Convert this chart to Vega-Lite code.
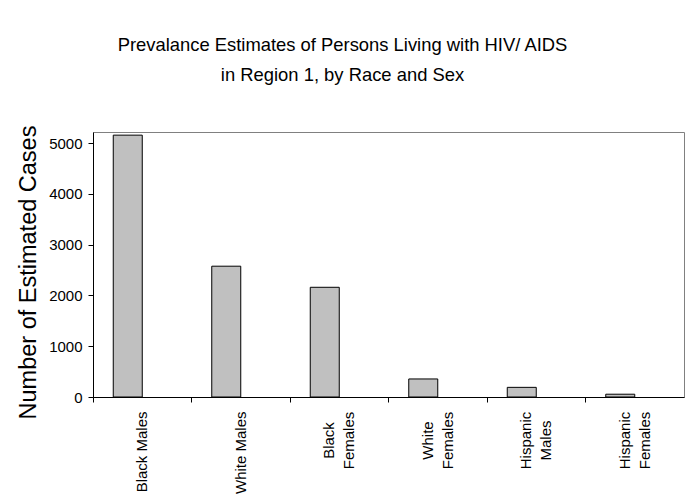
{
  "$schema": "https://vega.github.io/schema/vega-lite/v6.json",
  "autosize": {"type": "none"},
  "width": 591,
  "height": 265,
  "padding": {"left": 93, "top": 132, "right": 3, "bottom": 107},
  "background": "white",
  "title": {
    "text": ["Prevalance Estimates of Persons Living with HIV/ AIDS", "in Region 1, by Race and Sex"],
    "font": "Liberation Sans",
    "fontSize": 18.4,
    "fontWeight": "normal",
    "lineHeight": 30,
    "color": "black",
    "anchor": "middle",
    "dx": -46,
    "offset": 41
  },
  "config": {
    "view": {"stroke": "#808080", "strokeWidth": 1},
    "axis": {"labelFont": "Liberation Sans", "titleFont": "Liberation Sans", "labelColor": "black", "titleColor": "black", "domainColor": "black", "tickColor": "black", "grid": false}
  },
  "data": {
    "values": [
      {"group": "Black Males", "cases": 5155},
      {"group": "White Males", "cases": 2575},
      {"group": "Black Females", "cases": 2160},
      {"group": "White Females", "cases": 355},
      {"group": "Hispanic Males", "cases": 190},
      {"group": "Hispanic Females", "cases": 55}
    ]
  },
  "mark": {"type": "bar", "width": 29, "xOffset": -14.5, "fill": "#c0c0c0", "stroke": "black", "strokeWidth": 1},
  "encoding": {
    "x": {
      "field": "group",
      "type": "nominal",
      "sort": null,
      "scale": {"paddingInner": 0, "paddingOuter": 0},
      "axis": {
        "title": null,
        "bandPosition": 0,
        "labelAngle": -90,
        "labelAlign": {"condition": {"test": "datum.value == 'Black Males' || datum.value == 'White Males'", "value": "right"}, "value": "center"},
        "labelPadding": {"condition": {"test": "datum.value == 'Black Males' || datum.value == 'White Males'", "value": 9}, "value": 38}, 
        "labelOffset": {"condition": {"test": "datum.value == 'Black Males' || datum.value == 'White Males'", "value": 0}, "value": -10},
        "labelBaseline": "middle",
        "labelFontSize": 15,
        "labelLineHeight": 20,
        "tickSize": 5,
        "labelExpr": "datum.label == 'Black Males' || datum.label == 'White Males' ? datum.label : split(datum.label, ' ')"
      }
    },
    "y": {
      "field": "cases",
      "type": "quantitative",
      "scale": {"domain": [0, 5217], "nice": false},
      "axis": {
        "title": "Number of Estimated Cases",
        "titleFontSize": 23.5,
        "titleFontWeight": "normal",
        "titlePadding": 8,
        "titleY": 140,
        "values": [0, 1000, 2000, 3000, 4000, 5000],
        "format": "d",
        "labelFontSize": 15,
        "labelPadding": 6,
        "tickSize": 5,
        "labelFlush": false
      }
    }
  }
}
